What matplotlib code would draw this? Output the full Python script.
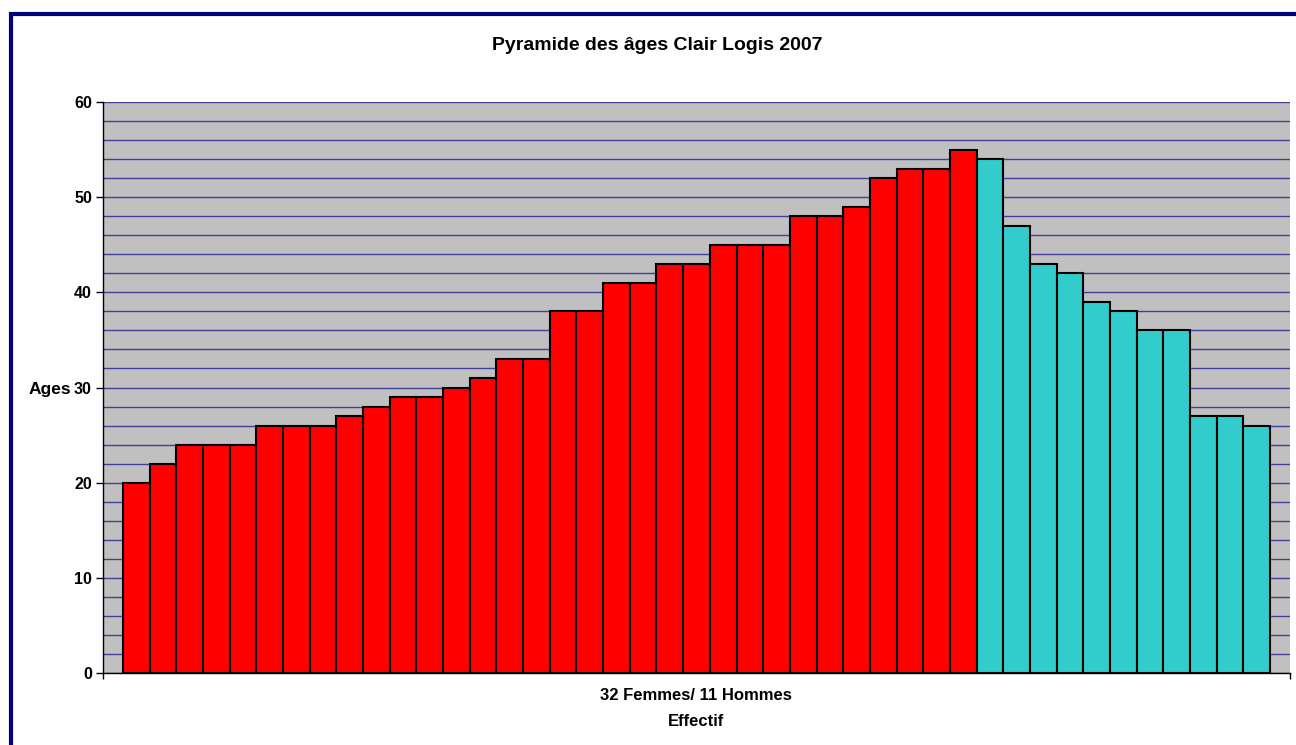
import matplotlib
matplotlib.use("Agg")
from matplotlib import pyplot as plt
from matplotlib.patches import Rectangle

plt.rcParams['font.family'] = ['Liberation Sans', 'DejaVu Sans']

femmes = [20, 22, 24, 24, 24, 26, 26, 26, 27, 28, 29, 29, 30, 31, 33, 33,
          38, 38, 41, 41, 43, 43, 45, 45, 45, 48, 48, 49, 52, 53, 53, 55]
hommes = [54, 47, 43, 42, 39, 38, 36, 36, 27, 27, 26]
yticks = [0, 10, 20, 30, 40, 50, 60]

W, H = 1296, 745
fig = plt.figure(figsize=(W / 100, H / 100), dpi=100)
ax = fig.add_axes([103 / W, 1 - 673 / H, (1290 - 103) / W, (673 - 102) / H])
ax.set_facecolor('#c0c0c0')

xf = list(range(len(femmes)))
xh = list(range(len(femmes), len(femmes) + len(hommes)))
ax.bar(xf, femmes, width=1, color='#ff0000', edgecolor='black', linewidth=1.5, zorder=3)
ax.bar(xh, hommes, width=1, color='#33cccc', edgecolor='black', linewidth=1.5, zorder=3)

n = len(femmes) + len(hommes)
ax.set_xlim(-0.5 - 0.75, n - 0.5 + 0.75)
ax.set_ylim(0, 60)
ax.set_yticks(yticks)
ax.set_yticks(range(0, 61, 2), minor=True)
ax.set_yticklabels([str(v) for v in yticks], fontsize=11.5, fontweight='bold')
ax.grid(True, which='both', axis='y', color='#40409c', linewidth=1, zorder=1)
ax.tick_params(axis='y', which='major', length=5, width=1, pad=3)
ax.tick_params(axis='y', which='minor', length=0)
ax.set_xticks(ax.get_xlim())
ax.set_xticklabels([])
ax.tick_params(axis='x', length=4, width=1, direction='out')

for s in ['top', 'right']:
    ax.spines[s].set_visible(False)
for s in ['left', 'bottom']:
    ax.spines[s].set_color('black')
    ax.spines[s].set_linewidth(1)

fig.text(29 / W, 1 - 389 / H, 'Ages', fontsize=12.5, fontweight='bold', va='center', ha='left')
fig.text(657 / W, 1 - 45 / H, 'Pyramide des âges Clair Logis 2007', fontsize=14,
         fontweight='bold', ha='center', va='center')
fig.text(696 / W, 1 - 696 / H, '32 Femmes/ 11 Hommes', fontsize=12,
         fontweight='bold', ha='center', va='center')
fig.text(696 / W, 1 - 722 / H, 'Effectif', fontsize=12,
         fontweight='bold', ha='center', va='center')

fig.patches.append(Rectangle((10.5 / W, -0.1), 1.2, 1 - 14.5 / H + 0.1,
                             transform=fig.transFigure, fill=False,
                             edgecolor='#000080', linewidth=3, clip_on=False))

fig.savefig('out.png', dpi=100)
